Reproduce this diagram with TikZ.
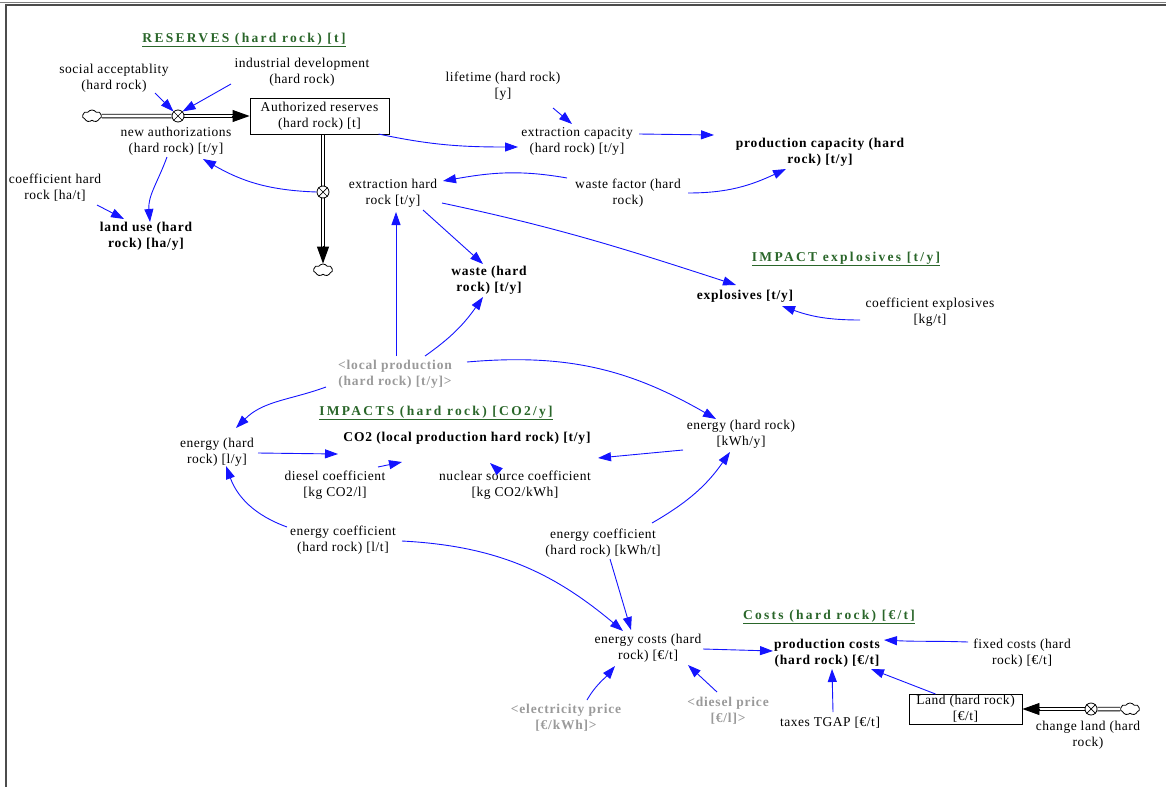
\documentclass[tikz,border=0pt]{standalone}
\usepackage{fontspec}
\setmainfont{Liberation Serif}
\newfontfamily\bodyfont[LetterSpace=4]{Liberation Serif}
\newfontfamily\boldfont[LetterSpace=6]{Liberation Serif}
\newfontfamily\ttlfont[LetterSpace=17]{Liberation Serif}
\usetikzlibrary{arrows.meta,shapes.symbols}
\definecolor{lnk}{HTML}{1414FF}
\definecolor{ttl}{HTML}{2A662A}
\definecolor{shd}{HTML}{9A9A9A}
\begin{document}
\begin{tikzpicture}[x=1pt,y=1pt,
  v/.style={align=center, inner sep=1pt, font=\bodyfont\fontsize{13.5}{16}\selectfont},
  vb/.style={align=center, inner sep=1pt, font=\boldfont\fontsize{13.5}{16}\selectfont\bfseries},
  sh/.style={vb, text=shd},
  ttlnode/.style={inner sep=1pt, text=ttl, font=\ttlfont\fontsize{13.5}{15}\selectfont\bfseries},
  stockbox/.style={draw, line width=0.9, align=center, inner sep=1pt, font=\bodyfont\fontsize{13.5}{16}\selectfont},
  valvenode/.style={circle, draw, line width=0.8, minimum size=12, inner sep=0, fill=white},
  cloudnode/.style={cloud, draw, cloud puffs=7, cloud puff arc=110, aspect=1.6, minimum width=19, minimum height=12, inner sep=0, line width=0.8},
  lk/.style={draw=lnk, line width=0.9, -{Triangle[length=13,width=9]}},
  pipeline/.style={draw=black, line width=0.9},
  flowtip/.style={draw=black, line width=0.9, -{Triangle[length=17,width=12]}}
]
\useasboundingbox (0,0) rectangle (1166,-787);
% frame
\draw[line width=1, gray] (0,-2) -- (1166,-2);
\draw[line width=1.5, black!70] (1166,-5) -- (6,-5) -- (6,-787);

% titles
\node[ttlnode] (t1) at (244,-40) {\underline{RESERVES (hard rock) [t]}};
\node[ttlnode] (t2) at (846,-259) {\underline{IMPACT explosives [t/y]}};
\node[ttlnode] (t3) at (436,-413) {\underline{IMPACTS (hard rock) [CO2/y]}};
\node[ttlnode] (t4) at (829,-617) {\underline{Costs (hard rock) [€/t]}};

% nodes
\node[v] (soc) at (114,-78) {social acceptablity\\(hard rock)};
\node[v] (ind) at (302,-72) {industrial development\\(hard rock)};
\node[stockbox, minimum width=139, minimum height=36] (auth) at (319.5,-116) {Authorized reserves\\(hard rock) [t]};
\node[valvenode] (v1) at (178,-116) {};
\node[cloudnode] (c1) at (92,-116) {};
\node[v] (newa) at (176,-141) {new authorizations\\(hard rock) [t/y]};
\node[v] (coefh) at (55,-188) {coefficient hard\\rock [ha/t]};
\node[vb] (land) at (146,-236) {land use (hard\\rock) [ha/y]};
\node[valvenode] (v2) at (323,-192) {};
\node[cloudnode] (c2) at (323,-270) {};
\node[v] (life) at (503,-86) {lifetime (hard rock)\\{}[y]};
\node[v] (extcap) at (577,-141) {extraction capacity\\(hard rock) [t/y]};
\node[vb] (prodcap) at (820,-152) {production capacity (hard\\rock) [t/y]};
\node[v] (exthr) at (393,-193) {extraction hard\\rock [t/y]};
\node[v] (wf) at (628,-193) {waste factor (hard\\rock)};
\node[vb] (waste) at (489,-280) {waste (hard\\rock) [t/y]};
\node[vb] (expl) at (745,-296) {explosives [t/y]};
\node[v] (coefex) at (930,-312) {coefficient explosives\\{}[kg/t]};
\node[sh] (locp) at (395,-374) {<local production\\(hard rock) [t/y]>};
\node[v] (enl) at (217,-452) {energy (hard\\rock) [l/y]};
\node[vb] (co2) at (467,-438) {CO2 (local production hard rock) [t/y]};
\node[v] (dies) at (335,-485) {diesel coefficient\\{}[kg CO2/l]};
\node[v] (nuc) at (515,-485) {nuclear source coefficient\\{}[kg CO2/kWh]};
\node[v] (enk) at (741,-434) {energy (hard rock)\\{}[kWh/y]};
\node[v] (ecl) at (343,-540) {energy coefficient\\(hard rock) [l/t]};
\node[v] (eck) at (603,-543) {energy coefficient\\(hard rock) [kWh/t]};
\node[v] (ecost) at (648,-648) {energy costs (hard\\rock) [€/t]};
\node[vb] (pcost) at (827,-653) {production costs\\(hard rock) [€/t]};
\node[v] (fixed) at (1022,-653) {fixed costs (hard\\rock) [€/t]};
\node[sh] (elec) at (566,-718) {<electricity price\\{}[€/kWh]>};
\node[sh] (dpr) at (728,-711) {<diesel price\\{}[€/l]>};
\node[v] (tax) at (830,-723) {taxes TGAP [€/t]};
\node[stockbox, minimum width=113, minimum height=30] (landst) at (965.5,-709) {Land (hard rock)\\{}[€/t]};
\node[valvenode] (v3) at (1091,-709) {};
\node[cloudnode] (c3) at (1130,-709) {};
\node[v] (chl) at (1088,-735) {change land (hard\\rock)};

% valve crosses
\foreach \vv in {v1,v2,v3} {
  \draw[line width=0.7] (\vv.north west) -- (\vv.south east) (\vv.north east) -- (\vv.south west);
}

% flows (double pipes)
\draw[pipeline] ([yshift=1.8]c1.east) -- ([yshift=1.8]v1.west) ([yshift=-1.8]c1.east) -- ([yshift=-1.8]v1.west);
\draw[pipeline] ([yshift=1.8]v1.east) -- ([shift={(-15,1.8)}]auth.west) ([yshift=-1.8]v1.east) -- ([shift={(-15,-1.8)}]auth.west);
\draw[flowtip] ([xshift=-18]auth.west) -- (auth.west);
\draw[pipeline] ([xshift=5.3]auth.south) -- ([xshift=1.8]v2.north) ([xshift=1.7]auth.south) -- ([xshift=-1.8]v2.north);
\draw[pipeline] ([xshift=1.8]v2.south) -- ([shift={(1.8,15)}]c2.north) ([xshift=-1.8]v2.south) -- ([shift={(-1.8,15)}]c2.north);
\draw[flowtip] ([yshift=18]c2.north) -- (c2.north);
\draw[pipeline] ([yshift=1.8]c3.west) -- ([yshift=1.8]v3.east) ([yshift=-1.8]c3.west) -- ([yshift=-1.8]v3.east);
\draw[pipeline] ([yshift=1.8]v3.west) -- ([shift={(15,1.8)}]landst.east) ([yshift=-1.8]v3.west) -- ([shift={(15,-1.8)}]landst.east);
\draw[flowtip] ([xshift=18]landst.east) -- (landst.east);

% links
\draw[lk] ([shift={(41,-15)}]soc.center) -- (v1.north west);
\draw[lk] ([shift={(-71,-12)}]ind.center) -- (v1.north east);
\draw[lk] ([shift={(-9,-16)}]newa.center) to[out=250,in=95] ([shift={(4,14)}]land.center);
\draw[lk] ([shift={(42,-17)}]coefh.center) -- ([shift={(-22,17)}]land.center);
\draw[lk] (v2.west) to[out=178,in=-30] ([shift={(27,-18)}]newa.center);
\draw[lk] ([shift={(59,-18)}]auth.center) to[out=-12,in=180] ([shift={(-59,-6)}]extcap.center);
\draw[lk] ([shift={(50,-22)}]life.center) -- ([shift={(-5,17)}]extcap.center);
\draw[lk] ([shift={(62,7)}]extcap.center) -- ([shift={(-106,17)}]prodcap.center);
\draw[lk] ([shift={(-61,15)}]wf.center) to[out=170,in=10] ([shift={(50,12)}]exthr.center);
\draw[lk] ([shift={(60,0)}]wf.center) to[out=0,in=205] ([shift={(-34,-17)}]prodcap.center);
\draw[lk] ([shift={(30,-17)}]exthr.center) -- ([shift={(-6,16)}]waste.center);
\draw[lk] ([shift={(49,-10)}]exthr.center) to[out=-12,in=162] ([shift={(-9,11)}]expl.center);
\draw[lk] ([shift={(-70,-8)}]coefex.center) to[out=180,in=-20] ([shift={(37,-10)}]expl.center);
\draw[lk] ([shift={(1,18)}]locp.center) -- ([shift={(3,-19)}]exthr.center);
\draw[lk] ([shift={(30,18)}]locp.center) to[out=35,in=235] ([shift={(-6,-17)}]waste.center);
\draw[lk] ([shift={(-69,-13)}]locp.center) to[out=200,in=45] ([shift={(19,24)}]enl.center);
\draw[lk] ([shift={(72,12)}]locp.center) to[out=5,in=150] ([shift={(-25,15)}]enk.center);
\draw[lk] ([shift={(41,-1)}]enl.center) -- ([shift={(-129,-16)}]co2.center);
\draw[lk] ([shift={(43,18)}]dies.center) -- ([shift={(-65,-24)}]co2.center);
\draw[lk] ([shift={(-15,13)}]nuc.center) -- ([shift={(23,-25)}]co2.center);
\draw[lk] ([shift={(-58,-16)}]enk.center) -- ([shift={(131,-20)}]co2.center);
\draw[lk] ([shift={(-56,13)}]ecl.center) to[out=160,in=-70] ([shift={(9,-14)}]enl.center);
\draw[lk] ([shift={(59,-1)}]ecl.center) to[out=-3,in=140] ([shift={(-25,17)}]ecost.center);
\draw[lk] ([shift={(49,20)}]eck.center) to[out=30,in=235] ([shift={(-11,-18)}]enk.center);
\draw[lk] ([shift={(7,-16)}]eck.center) -- ([shift={(-17,18)}]ecost.center);
\draw[lk] ([shift={(55,-1)}]ecost.center) -- ([shift={(-54,2)}]pcost.center);
\draw[lk] ([shift={(-54,11)}]fixed.center) to[out=178,in=-3] ([shift={(57,13)}]pcost.center);
\draw[lk] ([shift={(3,11)}]tax.center) -- ([shift={(5,-16)}]pcost.center);
\draw[lk] ([shift={(-30,15)}]landst.center) -- ([shift={(44,-16)}]pcost.center);
\draw[lk] ([shift={(21,18)}]elec.center) to[out=60,in=230] ([shift={(-33,-18)}]ecost.center);
\draw[lk] ([shift={(-11,19)}]dpr.center) -- ([shift={(40,-17)}]ecost.center);
\end{tikzpicture}
\end{document}
